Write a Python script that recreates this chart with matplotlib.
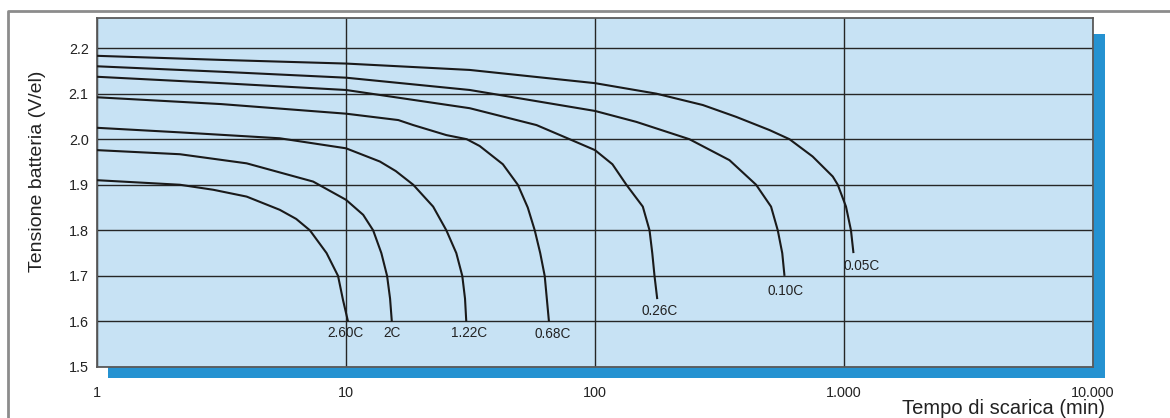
import numpy as np
import matplotlib
matplotlib.use("Agg")
import matplotlib.pyplot as plt
from matplotlib.patches import Rectangle
from matplotlib.lines import Line2D

plt.rcParams['font.family'] = ['Liberation Sans', 'DejaVu Sans']

# curve data: log10(time in minutes) and cell voltage (V/el)
logt_005 = [0, 0.5, 1.0, 1.497, 2.0, 2.246, 2.433, 2.567, 2.701, 2.781, 2.874, 2.955, 2.975, 3.008, 3.028, 3.038]
v_005 = [2.183, 2.174, 2.166, 2.152, 2.123, 2.100, 2.075, 2.049, 2.020, 2.0, 1.962, 1.918, 1.9, 1.852, 1.8, 1.75]

logt_010 = [0, 0.5, 1.0, 1.497, 2.0, 2.166, 2.379, 2.540, 2.647, 2.707, 2.734, 2.752, 2.761]
v_010 = [2.160, 2.148, 2.135, 2.108, 2.062, 2.038, 2.0, 1.954, 1.9, 1.852, 1.8, 1.75, 1.70]

logt_026 = [0, 0.5, 1.0, 1.497, 1.765, 1.898, 2.0, 2.07, 2.126, 2.192, 2.219, 2.23, 2.239, 2.25]
v_026 = [2.137, 2.123, 2.108, 2.068, 2.031, 2.0, 1.976, 1.945, 1.9, 1.852, 1.8, 1.75, 1.7, 1.649]

logt_068 = [0, 0.5, 1.0, 1.21, 1.27, 1.403, 1.485, 1.537, 1.63, 1.69, 1.73, 1.758, 1.78, 1.798, 1.815]
v_068 = [2.092, 2.077, 2.056, 2.042, 2.031, 2.009, 2.0, 1.985, 1.945, 1.9, 1.85, 1.8, 1.75, 1.7, 1.6]

logt_122 = [0, 0.333, 0.734, 1.0, 1.136, 1.2, 1.27, 1.35, 1.403, 1.443, 1.467, 1.478, 1.483]
v_122 = [2.025, 2.015, 2.002, 1.980, 1.951, 1.93, 1.9, 1.852, 1.8, 1.75, 1.7, 1.65, 1.6]

logt_200 = [0, 0.333, 0.601, 0.868, 1.0, 1.069, 1.109, 1.142, 1.165, 1.177, 1.184]
v_200 = [1.976, 1.967, 1.947, 1.907, 1.867, 1.834, 1.8, 1.75, 1.7, 1.65, 1.6]

logt_260 = [0, 0.333, 0.467, 0.601, 0.734, 0.8, 0.855, 0.922, 0.968, 0.988, 1.008]
v_260 = [1.91, 1.90, 1.889, 1.874, 1.845, 1.825, 1.8, 1.75, 1.7, 1.647, 1.6]

curve_names = ['0.05C', '0.10C', '0.26C', '0.68C', '1.22C', '2C', '2.60C']
curve_logt = [logt_005, logt_010, logt_026, logt_068, logt_122, logt_200, logt_260]
curve_v = [v_005, v_010, v_026, v_068, v_122, v_200, v_260]

# label anchor (minutes, volts) for each curve name
label_t = [1175, 582, 181.6, 67.6, 31.1, 15.3, 10.0]
label_v = [1.722, 1.666, 1.622, 1.573, 1.575, 1.575, 1.575]

x_ticks = [1, 10, 100, 1000, 10000]
x_ticklabels = ['1', '10', '100', '1.000', '10.000']
y_ticks = [1.5, 1.6, 1.7, 1.8, 1.9, 2.0, 2.1, 2.2]
y_ticklabels = ['1.5', '1.6', '1.7', '1.8', '1.9', '2.0', '2.1', '2.2']

W, H = 1170, 418
fig = plt.figure(figsize=(W / 100, H / 100), dpi=100)

def fx(px):
    return px / W

def fy(py):
    return 1 - py / H

# outer frame (top and left edges only visible)
fig.add_artist(Line2D([fx(8), fx(8), 1.0], [0.0, fy(11), fy(11)],
                      transform=fig.transFigure, color='#8c8c8c', lw=2))

# blue drop shadow behind the plot
shadow = Rectangle((fx(108), fy(378)), fx(1105) - fx(108), fy(34) - fy(378),
                   transform=fig.transFigure, facecolor='#2592d1',
                   edgecolor='none', zorder=-1)
fig.add_artist(shadow)

ax = fig.add_axes([fx(97), fy(367), fx(1093) - fx(97), fy(18) - fy(367)])
ax.set_facecolor('#c7e2f4')
ax.set_xscale('log')
ax.set_xlim(1, 10000)
ax.set_ylim(1.5, 2.266)

ax.set_xticks(x_ticks)
ax.set_xticklabels(x_ticklabels)
ax.xaxis.set_minor_locator(matplotlib.ticker.NullLocator())
ax.set_yticks(y_ticks)
ax.set_yticklabels(y_ticklabels)
ax.tick_params(axis='both', length=0, labelsize=10.4, colors='#222222')
ax.tick_params(axis='x', pad=14)
ax.tick_params(axis='y', pad=6)

ax.grid(True, which='major', color='#262626', lw=1.0)
ax.set_axisbelow(True)
for s in ax.spines.values():
    s.set_color('#5a5a5a')
    s.set_linewidth(1.3)

for name, lt, v in zip(curve_names, curve_logt, curve_v):
    t = np.power(10.0, lt)
    ax.plot(t, v, color='#1a1a1a', lw=1.5, solid_capstyle='butt',
            solid_joinstyle='round', zorder=3)

for name, tx, vy in zip(curve_names, label_t, label_v):
    ax.text(tx, vy, name, ha='center', va='center', fontsize=9.8,
            color='#222222', zorder=4)

fig.text(fx(38), fy(171), 'Tensione batteria (V/el)', rotation=90,
         ha='center', va='center', fontsize=14, color='#222222')
fig.text(fx(1105), fy(408), 'Tempo di scarica (min)', ha='right',
         va='center', fontsize=14.5, color='#222222')

fig.savefig('out.png', dpi=100)
